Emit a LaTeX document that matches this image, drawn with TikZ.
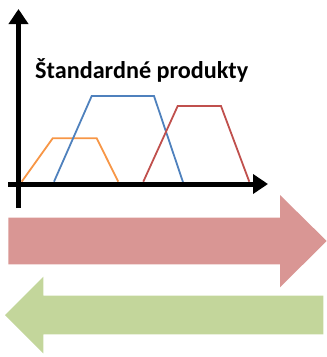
\documentclass[tikz,border=0pt]{standalone}
\usepackage{fontspec}
\setmainfont{Carlito}[BoldFont={Carlito Bold}]
\usetikzlibrary{arrows.meta}
\definecolor{cOrange}{HTML}{F79646}
\definecolor{cBlue}{HTML}{4F81BD}
\definecolor{cRed}{HTML}{C0504D}
\definecolor{cRedArrow}{HTML}{D99694}
\definecolor{cGreenArrow}{HTML}{C3D69B}
\tikzset{
  axis/.style={line width=5pt,-{Triangle[length=15pt,width=19pt]}},
  curve/.style={line width=1.8pt,line join=miter},
  titlefont/.style={font=\bfseries\fontsize{24.2}{28}\selectfont}
}
\begin{document}
\begin{tikzpicture}[x=1pt,y=-1pt]
\useasboundingbox (0,0) rectangle (327,357);
% curves
\draw[curve,cOrange] (21.7,181.7) -- (52.7,138.3) -- (96.7,138.3) -- (118.3,181.7);
\draw[curve,cBlue] (54,181.7) -- (91.7,96) -- (154,96) -- (183.3,183);
\draw[curve,cRed] (143.3,181.7) -- (177.7,106) -- (221,106) -- (249.3,181.7);
% axes
\coordinate (yb) at (18.5,208);
\coordinate (yt) at (18.5,9);
\coordinate (xl) at (8,184);
\coordinate (xr) at (268,184);
\draw[axis] (yb) -- (yt);
\draw[axis] (xl) -- (xr);
% title
\node[anchor=base west,inner sep=0pt,titlefont] (title) at (35,78) {Štandardné produkty};
% big arrows
\fill[cRedArrow] (8.3,217.7) -- (280,217.7) -- (280,195) -- (326.7,241) -- (280,287.3) -- (280,264.3) -- (8.3,264.3) -- cycle;
\fill[cGreenArrow] (323.3,295.7) -- (43.3,295.7) -- (43.3,276.7) -- (5,315) -- (43.3,353.3) -- (43.3,334.3) -- (323.3,334.3) -- cycle;
\end{tikzpicture}
\end{document}
